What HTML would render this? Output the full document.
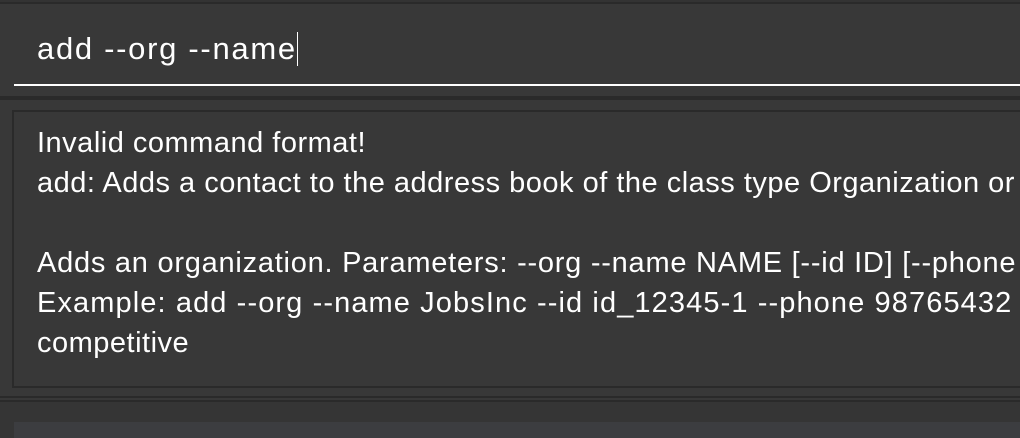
<!DOCTYPE html>
<html><head><meta charset="utf-8"><style>
html,body{margin:0;padding:0;width:1020px;height:438px;overflow:hidden;background:#383838;font-family:"Liberation Sans",sans-serif;color:#fff}
.abs{position:absolute}
.t{position:absolute;left:37px;width:983px;overflow:hidden;font-size:29px;letter-spacing:0.5px;white-space:nowrap;line-height:40px}
</style></head><body>
<div class="abs" style="left:0;top:0;width:1020px;height:2px;background:#333"></div>
<div class="abs" style="left:0;top:2px;width:1020px;height:2px;background:#2a2a2a"></div>
<div class="abs" style="left:14px;top:84px;width:1006px;height:2px;background:#fff"></div>
<div class="abs" style="left:0;top:96px;width:1020px;height:4px;background:#2a2a2a"></div>
<div class="abs" style="left:12px;top:110px;width:1006px;height:274px;border:2px solid #2a2a2a;border-right:none;background:#383838"></div>
<div class="abs" style="left:0;top:396px;width:1020px;height:2px;background:#2a2a2a"></div>
<div class="abs" style="left:0;top:400px;width:1020px;height:2px;background:#2a2a2a"></div>
<div class="abs" style="left:0;top:402px;width:1020px;height:36px;background:#353535"></div>
<div class="abs" style="left:14px;top:422px;width:1006px;height:16px;background:#3c3d40"></div>
<div class="t" style="top:29px;font-size:31px;letter-spacing:1.7px">add --org --name<span style="display:inline-block;width:1.5px;height:34px;background:#fff;vertical-align:-7px;margin-left:0px"></span></div>
<div class="t" style="top:123px">Invalid command format!</div>
<div class="t" style="top:163px">add: Adds a contact to the address book of the class type Organization or R</div>
<div class="t" style="top:243px;letter-spacing:0.75px">Adds an organization. Parameters: --org --name NAME [--id ID] [--phone</div>
<div class="t" style="top:283px;letter-spacing:1.1px">Example: add --org --name JobsInc --id id_12345-1 --phone 98765432</div>
<div class="t" style="top:323px">competitive</div>
</body></html>
